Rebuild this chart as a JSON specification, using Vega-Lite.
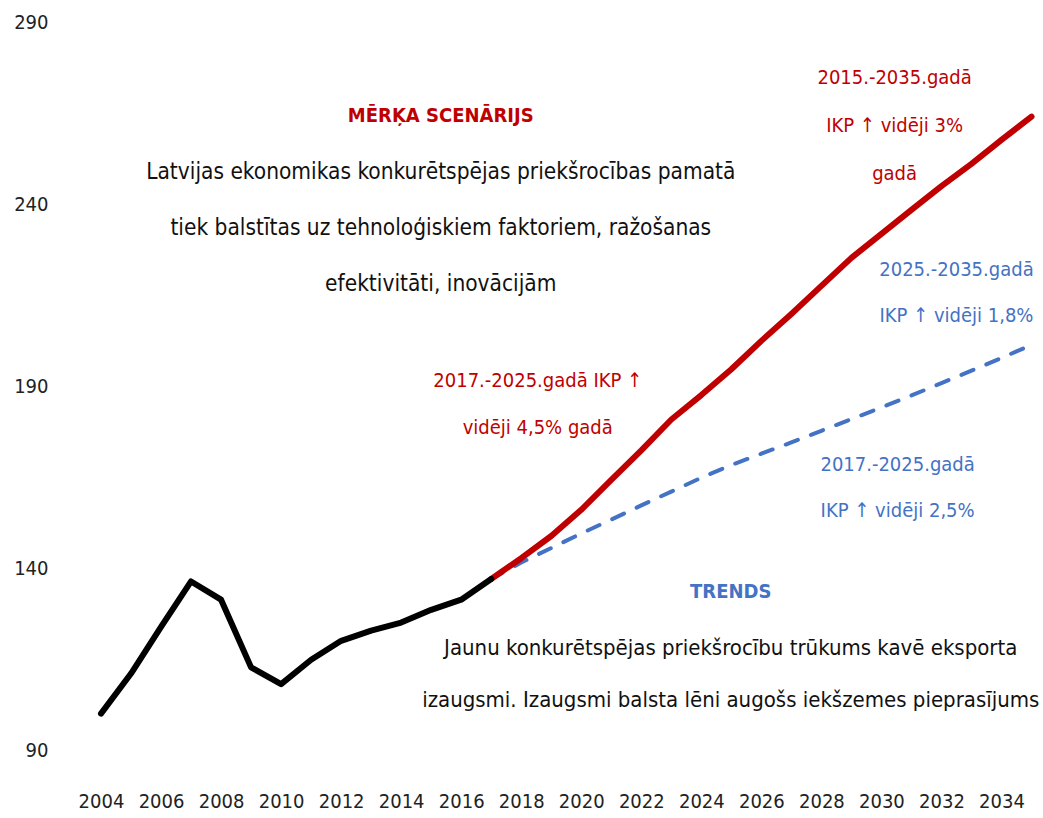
{
  "$schema": "https://vega.github.io/schema/vega-lite/v6.json",
  "width": 956,
  "height": 728,
  "autosize": {"type": "none"},
  "padding": {"left": 86, "top": 22, "right": 1, "bottom": 68},
  "background": "white",
  "config": {
    "view": {"stroke": null},
    "font": "Liberation Sans Narrow, DejaVu Sans Condensed, sans-serif",
    "text": {"font": "Liberation Sans Narrow, DejaVu Sans Condensed, sans-serif"}
  },
  "datasets": {
    "gdp": [
      {"year": 2004, "value": 100, "series": "Vēsture"},
      {"year": 2005, "value": 111, "series": "Vēsture"},
      {"year": 2006, "value": 123.8, "series": "Vēsture"},
      {"year": 2007, "value": 136.3, "series": "Vēsture"},
      {"year": 2008, "value": 131.3, "series": "Vēsture"},
      {"year": 2009, "value": 112.7, "series": "Vēsture"},
      {"year": 2010, "value": 108.1, "series": "Vēsture"},
      {"year": 2011, "value": 114.8, "series": "Vēsture"},
      {"year": 2012, "value": 120, "series": "Vēsture"},
      {"year": 2013, "value": 122.8, "series": "Vēsture"},
      {"year": 2014, "value": 125, "series": "Vēsture"},
      {"year": 2015, "value": 128.5, "series": "Vēsture"},
      {"year": 2016, "value": 131.3, "series": "Vēsture"},
      {"year": 2017, "value": 137, "series": "Vēsture"},
      {"year": 2017, "value": 137, "series": "Trends"},
      {"year": 2018, "value": 141.5, "series": "Trends"},
      {"year": 2019, "value": 145.5, "series": "Trends"},
      {"year": 2020, "value": 149.5, "series": "Trends"},
      {"year": 2021, "value": 153.3, "series": "Trends"},
      {"year": 2022, "value": 157.2, "series": "Trends"},
      {"year": 2023, "value": 161, "series": "Trends"},
      {"year": 2024, "value": 164.8, "series": "Trends"},
      {"year": 2025, "value": 168.3, "series": "Trends"},
      {"year": 2026, "value": 171.4, "series": "Trends"},
      {"year": 2027, "value": 174.5, "series": "Trends"},
      {"year": 2028, "value": 177.7, "series": "Trends"},
      {"year": 2029, "value": 180.9, "series": "Trends"},
      {"year": 2030, "value": 184.1, "series": "Trends"},
      {"year": 2031, "value": 187.4, "series": "Trends"},
      {"year": 2032, "value": 190.8, "series": "Trends"},
      {"year": 2033, "value": 194.2, "series": "Trends"},
      {"year": 2034, "value": 197.7, "series": "Trends"},
      {"year": 2035, "value": 201.3, "series": "Trends"},
      {"year": 2017, "value": 137, "series": "Mērķa scenārijs"},
      {"year": 2018, "value": 142.7, "series": "Mērķa scenārijs"},
      {"year": 2019, "value": 148.8, "series": "Mērķa scenārijs"},
      {"year": 2020, "value": 156, "series": "Mērķa scenārijs"},
      {"year": 2021, "value": 164.2, "series": "Mērķa scenārijs"},
      {"year": 2022, "value": 172.3, "series": "Mērķa scenārijs"},
      {"year": 2023, "value": 180.8, "series": "Mērķa scenārijs"},
      {"year": 2024, "value": 187.5, "series": "Mērķa scenārijs"},
      {"year": 2025, "value": 194.6, "series": "Mērķa scenārijs"},
      {"year": 2026, "value": 202.4, "series": "Mērķa scenārijs"},
      {"year": 2027, "value": 209.8, "series": "Mērķa scenārijs"},
      {"year": 2028, "value": 217.5, "series": "Mērķa scenārijs"},
      {"year": 2029, "value": 225.2, "series": "Mērķa scenārijs"},
      {"year": 2030, "value": 231.8, "series": "Mērķa scenārijs"},
      {"year": 2031, "value": 238.4, "series": "Mērķa scenārijs"},
      {"year": 2032, "value": 244.9, "series": "Mērķa scenārijs"},
      {"year": 2033, "value": 251, "series": "Mērķa scenārijs"},
      {"year": 2034, "value": 257.6, "series": "Mērķa scenārijs"},
      {"year": 2035, "value": 264, "series": "Mērķa scenārijs"}
    ]
  },
  "encoding": {
    "x": {
      "type": "quantitative",
      "scale": {"domain": [2003.5, 2035.35], "nice": false, "zero": false},
      "axis": {
        "title": null, "values": [2004, 2006, 2008, 2010, 2012, 2014, 2016, 2018, 2020, 2022, 2024, 2026, 2028, 2030, 2032, 2034],
        "format": "d", "domain": false, "ticks": false, "grid": false,
        "labelFontSize": 20, "labelColor": "#222222", "labelPadding": 41,
        "labelFont": "Liberation Sans Narrow, DejaVu Sans Condensed, sans-serif"
      }
    },
    "y": {
      "type": "quantitative",
      "scale": {"domain": [90, 290], "nice": false, "zero": false},
      "axis": {
        "title": null, "values": [90, 140, 190, 240, 290],
        "domain": false, "ticks": false, "grid": false,
        "labelFontSize": 20, "labelColor": "#222222", "labelPadding": 38,
        "labelFont": "Liberation Sans Narrow, DejaVu Sans Condensed, sans-serif"
      }
    }
  },
  "layer": [
    {
      "data": {"name": "gdp"},
      "transform": [{"filter": "datum.series === 'Trends'"}],
      "mark": {"type": "line", "color": "#4472C4", "strokeWidth": 4, "strokeDash": [13, 14], "strokeCap": "round"},
      "encoding": {"x": {"field": "year"}, "y": {"field": "value"}}
    },
    {
      "data": {"name": "gdp"},
      "transform": [{"filter": "datum.series === 'Mērķa scenārijs'"}],
      "mark": {"type": "line", "color": "#C00000", "strokeWidth": 6, "strokeCap": "round", "strokeJoin": "round"},
      "encoding": {"x": {"field": "year"}, "y": {"field": "value"}}
    },
    {
      "data": {"name": "gdp"},
      "transform": [{"filter": "datum.series === 'Vēsture'"}],
      "mark": {"type": "line", "color": "#000000", "strokeWidth": 6, "strokeCap": "round", "strokeJoin": "round"},
      "encoding": {"x": {"field": "year"}, "y": {"field": "value"}}
    },
    {
      "data": {"values": [{"note": "MĒRĶA SCENĀRIJS"}]},
      "mark": {"type": "text", "color": "#C00000", "fontSize": 20, "fontWeight": "bold", "align": "center", "baseline": "middle"},
      "encoding": {"x": {"datum": 2015.32}, "y": {"datum": 264.2}, "text": {"field": "note"}}
    },
    {
      "data": {"values": [{"note": "Latvijas ekonomikas konkurētspējas priekšrocības pamatā\ntiek balstītas uz tehnoloģiskiem faktoriem, ražošanas\nefektivitāti, inovācijām"}]},
      "mark": {"type": "text", "color": "#111111", "fontSize": 22.5, "align": "center", "baseline": "middle", "lineBreak": "\n", "lineHeight": 56},
      "encoding": {"x": {"datum": 2015.32}, "y": {"datum": 248.8}, "text": {"field": "note"}}
    },
    {
      "data": {"values": [{"note": "2015.-2035.gadā\nIKP ↑ vidēji 3%\ngadā"}]},
      "mark": {"type": "text", "color": "#C00000", "fontSize": 20, "align": "center", "baseline": "middle", "lineBreak": "\n", "lineHeight": 48},
      "encoding": {"x": {"datum": 2030.44}, "y": {"datum": 274.6}, "text": {"field": "note"}}
    },
    {
      "data": {"values": [{"note": "2025.-2035.gadā\nIKP ↑ vidēji 1,8%"}]},
      "mark": {"type": "text", "color": "#4472C4", "fontSize": 20, "align": "center", "baseline": "middle", "lineBreak": "\n", "lineHeight": 46},
      "encoding": {"x": {"datum": 2032.5}, "y": {"datum": 221.9}, "text": {"field": "note"}}
    },
    {
      "data": {"values": [{"note": "2017.-2025.gadā IKP ↑\nvidēji 4,5% gadā"}]},
      "mark": {"type": "text", "color": "#C00000", "fontSize": 20, "align": "center", "baseline": "middle", "lineBreak": "\n", "lineHeight": 47},
      "encoding": {"x": {"datum": 2018.55}, "y": {"datum": 191.4}, "text": {"field": "note"}}
    },
    {
      "data": {"values": [{"note": "2017.-2025.gadā\nIKP ↑ vidēji 2,5%"}]},
      "mark": {"type": "text", "color": "#4472C4", "fontSize": 20, "align": "center", "baseline": "middle", "lineBreak": "\n", "lineHeight": 46},
      "encoding": {"x": {"datum": 2030.54}, "y": {"datum": 168.3}, "text": {"field": "note"}}
    },
    {
      "data": {"values": [{"note": "TRENDS"}]},
      "mark": {"type": "text", "color": "#4472C4", "fontSize": 20, "fontWeight": "bold", "align": "center", "baseline": "middle"},
      "encoding": {"x": {"datum": 2024.98}, "y": {"datum": 133.4}, "text": {"field": "note"}}
    },
    {
      "data": {"values": [{"note": "Jaunu konkurētspējas priekšrocību trūkums kavē eksporta\nizaugsmi. Izaugsmi balsta lēni augošs iekšzemes pieprasījums"}]},
      "mark": {"type": "text", "color": "#111111", "fontSize": 22, "align": "center", "baseline": "middle", "lineBreak": "\n", "lineHeight": 52},
      "encoding": {"x": {"datum": 2024.98}, "y": {"datum": 118.0}, "text": {"field": "note"}}
    }
  ]
}
